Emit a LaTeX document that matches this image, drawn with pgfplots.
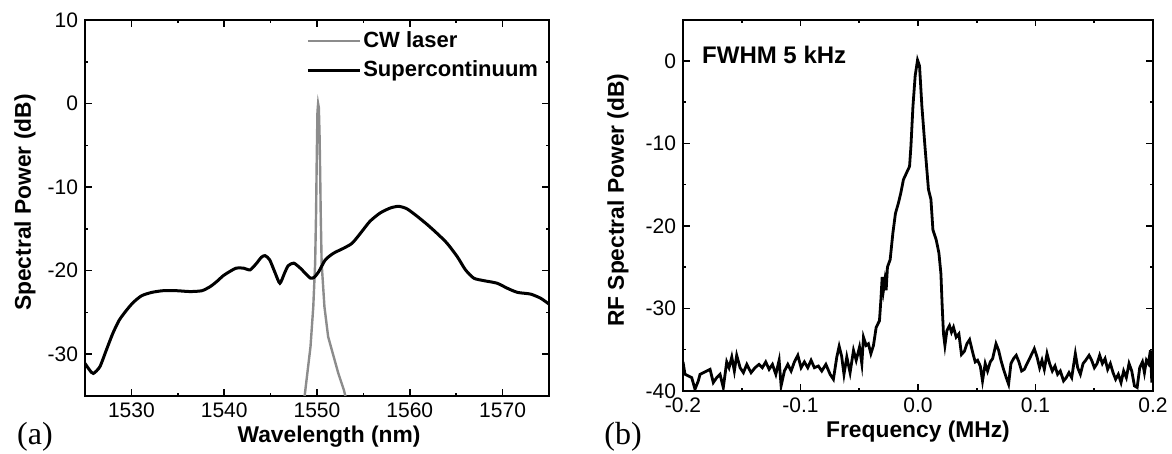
\documentclass[border=0pt]{standalone}
\usepackage{fontspec}
\setmainfont{Liberation Sans}
\newfontfamily\serifpanel{Liberation Serif}
\usepackage{pgfplots}
\pgfplotsset{compat=1.18}
\definecolor{cwgray}{RGB}{140,140,140}

\pgfplotsset{
  specstyle/.style={
    scale only axis,
    anchor=south west,
    axis line style={line width=1pt},
    tick align=inside,
    tick style={line width=0.8pt, black},
    major tick length=3.4pt,
    minor tick length=1.6pt,
    minor tick num=1,
    tick label style={font=\fontsize{10.5}{12}\selectfont},
    /pgf/number format/assume math mode=true,
    label style={font=\bfseries\fontsize{11.4}{13}\selectfont},
  }
}

\begin{document}
\begin{tikzpicture}
\path[use as bounding box] (0pt,0pt) rectangle (586pt,227pt);

% (a) optical spectrum
\begin{axis}[specstyle,
  at={(42.5pt,29pt)},
  width=232pt, height=188pt,
  xmin=1525, xmax=1575, ymin=-35, ymax=10,
  xtick={1530,1540,1550,1560,1570},
  ytick={-30,-20,-10,0,10},
  /pgf/number format/set thousands separator={},
  xlabel={Wavelength (nm)},
  ylabel={Spectral Power (dB)},
  xlabel style={at={(axis description cs:0.5,0)}, anchor=center, yshift=-20.5pt, xshift=6pt},
  ylabel style={at={(axis description cs:0,0.5)}, anchor=center, yshift=30pt, xshift=2.7pt},
  legend style={draw=none, fill=none, inner sep=0pt,
    at={(axis description cs:0.476,0.975)}, anchor=north west,
    font=\bfseries\fontsize{11}{12}\selectfont, row sep=3pt,
    nodes={inner sep=1pt}},
  legend cell align=left,
  legend image code/.code={\draw[#1] (0pt,0pt) -- (26pt,0pt);},
]
\addplot[cwgray, line width=1.2pt] coordinates {
  (1548.6,-35.5) (1548.7,-34.7) (1549.3,-29.1) (1549.6,-24.3) (1549.8,-19.1)
  (1549.9,-13.1) (1549.98,-6) (1550.05,-1) (1550.12,0) (1550.2,-0.5)
  (1550.28,-4) (1550.35,-9) (1550.4,-13.1) (1550.5,-19.1) (1550.8,-24.3)
  (1551.2,-27.9) (1551.8,-30.3) (1552.3,-32.3) (1552.9,-34.3) (1553.1,-35.2)
};
\addlegendentry{CW laser}
\addplot[black, line width=1.5pt, smooth, tension=0.4] coordinates {
  (1525,-31.1) (1525.5,-31.9) (1525.9,-32.3) (1526.6,-31.5) (1527.3,-29.5)
  (1528.0,-27.5) (1528.7,-25.9) (1529.5,-24.7) (1530.2,-23.8) (1531.1,-23.0)
  (1532.2,-22.6) (1533.4,-22.4) (1534.9,-22.4) (1536.3,-22.5) (1537.6,-22.4)
  (1538.5,-21.9) (1539.2,-21.3) (1539.9,-20.6) (1540.6,-20.1) (1541.3,-19.7)
  (1542.1,-19.7) (1542.8,-19.9) (1543.5,-19.1) (1544.0,-18.4) (1544.4,-18.2)
  (1544.9,-18.7) (1545.5,-20.3) (1546.0,-21.5) (1546.5,-20.3) (1546.9,-19.4)
  (1547.5,-19.1) (1548.2,-19.7) (1548.9,-20.5) (1549.3,-20.9) (1549.7,-20.8)
  (1550.2,-20.1) (1550.9,-18.7) (1551.8,-17.9) (1552.9,-17.3) (1553.8,-16.7)
  (1554.7,-15.5) (1555.7,-14.1) (1556.8,-13.1) (1557.9,-12.5) (1558.8,-12.3)
  (1559.7,-12.6) (1560.8,-13.5) (1561.9,-14.5) (1562.9,-15.5) (1564.0,-16.7)
  (1565.1,-18.3) (1566.0,-19.9) (1566.9,-20.9) (1568.0,-21.2) (1569.4,-21.5)
  (1570.5,-22.1) (1571.6,-22.6) (1573.0,-22.8) (1574.1,-23.3) (1575,-24.0)
};
\addlegendentry{Supercontinuum}
\end{axis}

% (b) RF spectrum
\begin{axis}[specstyle,
  at={(341.5pt,31.6pt)},
  width=235pt, height=185.6pt,
  xmin=-0.2, xmax=0.2, ymin=-40, ymax=5,
  xtick={-0.2,-0.1,0,0.1,0.2},
  ytick={-40,-30,-20,-10,0},
  xticklabel style={/pgf/number format/.cd, fixed, fixed zerofill, precision=1},
  xlabel={Frequency (MHz)},
  ylabel={RF Spectral Power (dB)},
  xlabel style={at={(axis description cs:0.5,0)}, anchor=center, yshift=-20.5pt},
  ylabel style={at={(axis description cs:0,0.5)}, anchor=center, yshift=32.5pt, xshift=2.5pt},
]
\addplot[black, line width=1.4pt] coordinates {
  (-0.2,-36.5) (-0.1983,-38.0) (-0.1955,-38.2) (-0.1926,-38.4) (-0.1898,-39.8)
  (-0.1870,-38.8) (-0.1855,-38.0) (-0.1827,-37.8) (-0.1798,-37.6) (-0.1770,-37.4)
  (-0.1742,-39.0) (-0.1713,-38.4) (-0.1685,-38.0) (-0.1657,-39.6) (-0.1628,-36.5)
  (-0.1608,-37.2) (-0.1585,-35.9) (-0.1563,-37.6) (-0.1543,-35.7) (-0.1514,-37.2)
  (-0.1486,-37.8) (-0.1457,-36.8) (-0.1421,-37.8) (-0.1387,-37.2) (-0.1353,-36.8)
  (-0.1325,-37.2) (-0.1296,-36.5) (-0.1267,-37.4) (-0.1239,-36.8) (-0.1210,-38.0)
  (-0.1182,-36.3) (-0.1165,-39.4) (-0.1137,-37.6) (-0.1108,-36.8) (-0.1080,-37.6)
  (-0.1052,-36.5) (-0.1023,-35.7) (-0.0995,-37.2) (-0.0967,-36.5) (-0.0938,-37.2)
  (-0.0910,-36.3) (-0.0882,-37.2) (-0.0848,-37.0) (-0.0819,-37.6) (-0.0784,-36.8)
  (-0.0748,-38.0) (-0.0720,-38.6) (-0.0691,-35.9) (-0.0671,-34.6) (-0.0650,-35.8)
  (-0.0630,-38.0) (-0.0606,-35.9) (-0.0578,-37.8) (-0.0549,-35.1) (-0.0526,-36.3)
  (-0.0498,-34.7) (-0.0478,-36.7) (-0.0464,-33.5) (-0.0441,-34.5) (-0.0422,-34.3)
  (-0.0401,-35.5) (-0.0379,-34.5) (-0.0356,-32.3) (-0.0328,-31.5) (-0.0316,-29.0)
  (-0.0305,-26.2) (-0.0294,-27.8) (-0.0282,-26.6) (-0.0271,-27.8) (-0.0260,-25.0)
  (-0.0237,-24.1) (-0.0214,-20.9) (-0.0192,-18.5) (-0.0166,-17.2) (-0.0146,-16.0)
  (-0.0124,-14.4) (-0.0095,-13.5) (-0.0072,-12.8) (-0.0060,-10.3) (-0.0043,-5.5)
  (-0.0024,-1.8) (-0.0004,0.1) (0.0013,-0.6) (0.0033,-5.5) (0.0061,-10.7)
  (0.0089,-15.6) (0.0110,-16.8) (0.0127,-20.5) (0.0155,-21.7) (0.0178,-23.3)
  (0.0195,-25.8) (0.0206,-29.8) (0.0217,-33.1) (0.0229,-34.5) (0.0246,-32.7)
  (0.0268,-32.1) (0.0285,-32.9) (0.0302,-32.3) (0.0325,-33.5) (0.0348,-33.1)
  (0.0370,-35.6) (0.0395,-35.2) (0.0416,-34.3) (0.0439,-33.8) (0.0468,-35.5)
  (0.0487,-36.5) (0.0507,-36.3) (0.0530,-37.0) (0.0549,-38.8) (0.0572,-36.7)
  (0.0592,-37.6) (0.0615,-36.5) (0.0635,-36.1) (0.0664,-34.3) (0.0686,-35.1)
  (0.0706,-36.3) (0.0728,-37.4) (0.0751,-38.4) (0.0771,-39.2) (0.0791,-36.7)
  (0.0813,-36.1) (0.0836,-35.7) (0.0859,-36.5) (0.0882,-37.6) (0.0905,-37.4)
  (0.0928,-36.7) (0.0956,-35.9) (0.0990,-34.9) (0.1013,-35.9) (0.1035,-37.2)
  (0.1055,-36.3) (0.1075,-37.4) (0.1098,-35.5) (0.1120,-36.7) (0.1143,-37.6)
  (0.1166,-37.0) (0.1188,-38.0) (0.1211,-37.6) (0.1239,-38.8) (0.1262,-38.4)
  (0.1285,-37.8) (0.1308,-38.4) (0.1339,-35.5) (0.1359,-37.2) (0.1382,-38.0)
  (0.1405,-36.7) (0.1427,-36.3) (0.1456,-35.7) (0.1478,-36.3) (0.1501,-37.2)
  (0.1524,-36.7) (0.1546,-35.7) (0.1569,-36.7) (0.1592,-36.1) (0.1614,-37.4)
  (0.1637,-36.7) (0.1660,-37.8) (0.1682,-38.6) (0.1705,-38.0) (0.1728,-39.0)
  (0.1750,-37.6) (0.1773,-38.4) (0.1796,-36.7) (0.1819,-37.6) (0.1842,-39.4)
  (0.1865,-39.6) (0.1887,-37.2) (0.1910,-36.5) (0.1927,-37.8) (0.1944,-36.3)
  (0.1961,-36.7) (0.1978,-35.1) (0.1990,-39.0) (0.2000,-35.3)
};
\node[anchor=west, inner sep=0pt, font=\bfseries\fontsize{12}{14}\selectfont]
  at (rel axis cs:0.04,0.905) {FWHM 5 kHz};
\end{axis}

\node[font=\serifpanel\fontsize{16}{18}\selectfont] at (17.5pt,8.5pt) {(a)};
\node[font=\serifpanel\fontsize{16}{18}\selectfont] at (311.5pt,8.5pt) {(b)};
\end{tikzpicture}
\end{document}
